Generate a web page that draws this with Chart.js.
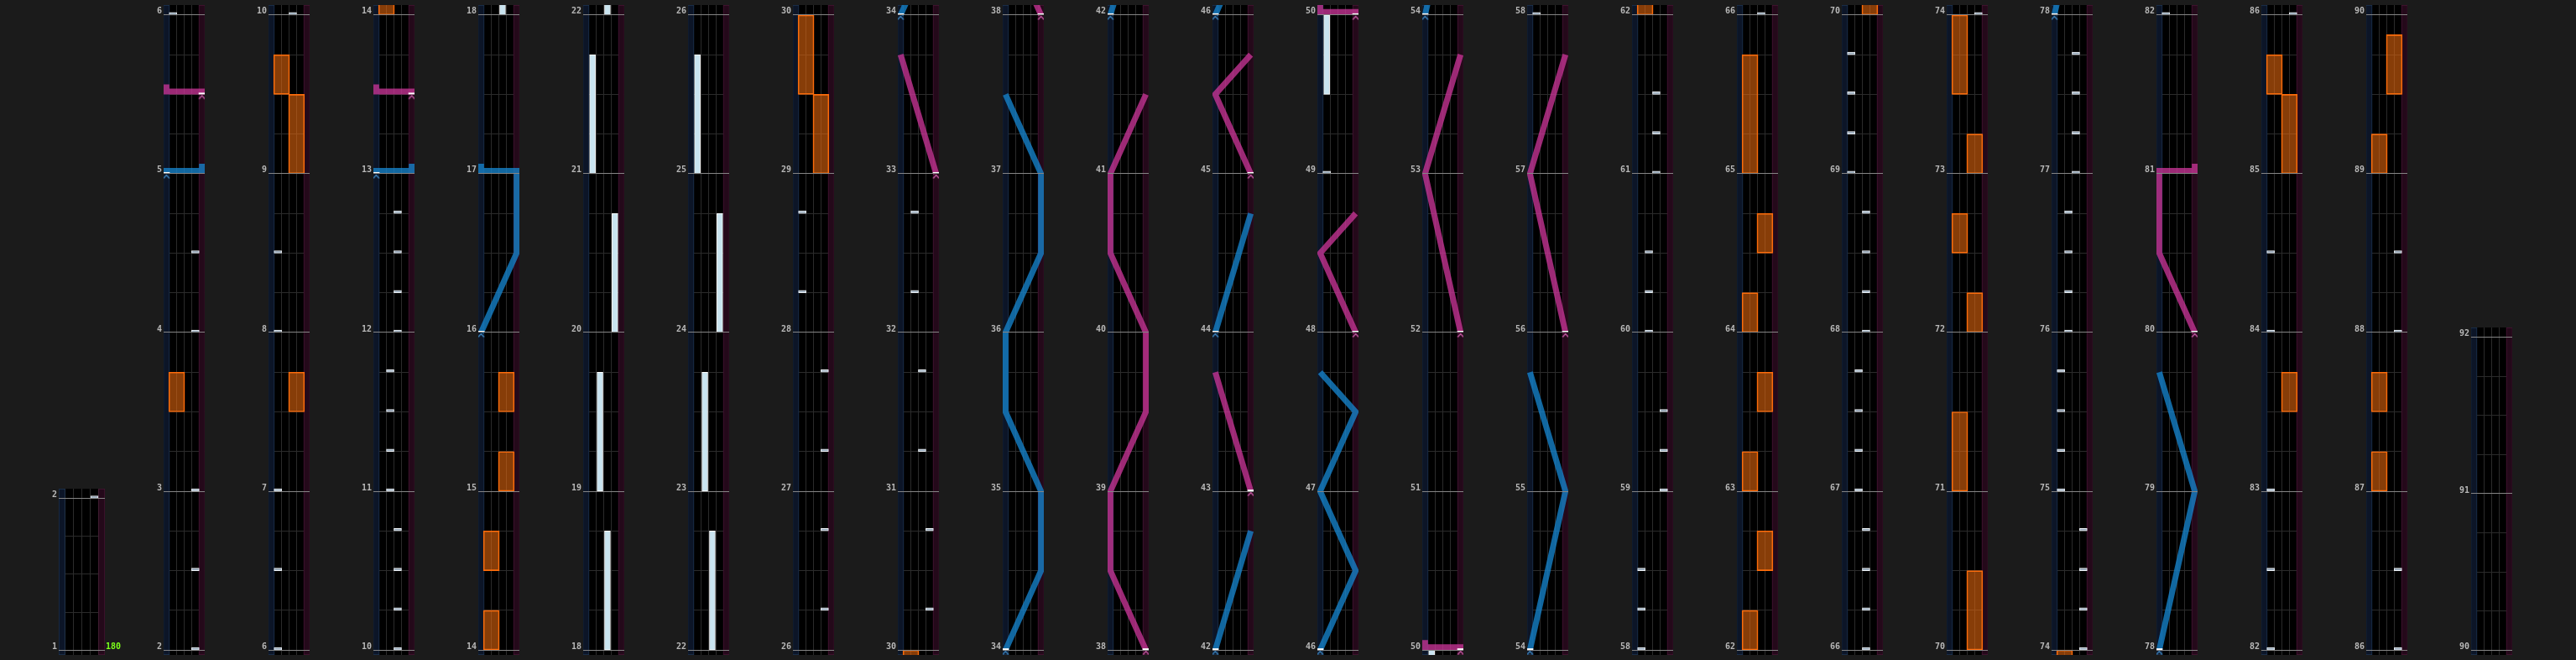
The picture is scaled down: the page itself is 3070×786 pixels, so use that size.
<!DOCTYPE html>
<html><head><meta charset="utf-8">
<script src="https://cdn.jsdelivr.net/npm/chart.js@4.4.0/dist/chart.umd.min.js"></script>
<style>
html,body{margin:0;padding:0;background:#1b1b1b;width:3070px;height:786px;overflow:hidden}
canvas{position:absolute}
</style></head><body>
<script>
// ================= DATA (times in measures) =================
const lastMeasure = 92;
const bpmLabels = [[1, 180]];               // [measure, bpm]
// BT chips: [time, lane 0..3]
const btChips = [
 [2,3],[2.5,3],[3,3],[4,3],[4.5,3],
 [6,0],[6.5,0],[7,0],[8,0],[8.5,0],
 [10,2],[10.25,2],[10.5,2],[10.75,2],[11,1],[11.25,1],[11.5,1],[11.75,1],[12,2],[12.25,2],[12.5,2],[12.75,2],
 [26.25,3],[26.75,3],[27.25,3],[27.75,3],[28.25,0],[28.75,0],
 [30.25,3],[30.75,3],[31.25,2],[31.75,2],[32.25,1],[32.75,1],
 [49,0],
 [58,0],[58.25,0],[58.5,0],[59,3],[59.25,3],[59.5,3],[60,1],[60.25,1],[60.5,1],[61,2],[61.25,2],[61.5,2],
 [66,2],[66.25,2],[66.5,2],[66.75,2],[67,1],[67.25,1],[67.5,1],[67.75,1],[68,2],[68.25,2],[68.5,2],[68.75,2],[69,0],[69.25,0],[69.5,0],[69.75,0],
 [74,3],[74.25,3],[74.5,3],[74.75,3],[75,0],[75.25,0],[75.5,0],[75.75,0],[76,1],[76.25,1],[76.5,1],[76.75,1],[77,2],[77.25,2],[77.5,2],[77.75,2],
 [82,0],[82.5,0],[83,0],[84,0],[84.5,0],[86,3],[86.5,3],[88,3],[88.5,3]
];
// BT holds: [start, end, lane]
const btHolds = [
 [18,18.75,2],[19,19.75,1],[20,20.75,3],[21,21.75,0],
 [22,22.75,2],[23,23.75,1],[24,24.75,3],[25,25.75,0],[49.5,50,0]
];
// FX holds: [start, end, side 0=left 1=right]
const fxHolds = [
 [3.5,3.75,0],[7.5,7.75,1],[9,9.5,1],[9.5,9.75,0],[14,14.25,0],[14.5,14.75,0],[15,15.25,1],[15.5,15.75,1],
 [29,29.5,1],[29.5,30,0],[62,62.25,0],[62.5,62.75,1],[63,63.25,0],[63.5,63.75,1],[64,64.25,0],[64.5,64.75,1],
 [65,65.75,0],[70,70.5,1],[71,71.5,0],[72,72.25,1],[72.5,72.75,0],[73,73.25,1],[73.5,74,0],
 [83.5,83.75,1],[85,85.5,1],[85.5,85.75,0],[87,87.25,0],[87.5,87.75,0],[89,89.25,0],[89.5,89.875,1]
];
// Lasers: list of [time, position 0..1]; two points with equal time = slam
const leftLasers = [
 [[5,0],[5,1],[5.0625,1]],
 [[13,0],[13,1],[13.0625,1]],
 [[16,0],[16.5,1],[17,1],[17,0],[17.0625,0]],
 [[34,0],[34.5,1],[35,1],[35.5,0],[36,0],[36.5,1],[37,1],[37.5,0]],
 [[42,0],[42.75,1]],
 [[44,0],[44.75,1]],
 [[46,0],[46.5,1],[47,0],[47.5,1],[47.75,0]],
 [[54,0],[55,1],[55.75,0]],
 [[78,0],[79,1],[79.75,0]]
];
const rightLasers = [
 [[5.5,1],[5.5,0],[5.5625,0]],
 [[13.5,1],[13.5,0],[13.5625,0]],
 [[33,1],[33.75,0]],
 [[38,1],[38.5,0],[39,0],[39.5,1],[40,1],[40.5,0],[41,0],[41.5,1]],
 [[43,1],[43.75,0]],
 [[45,1],[45.5,0],[45.75,1]],
 [[48,1],[48.5,0],[48.75,1]],
 [[50,1],[50,0],[50.0625,0]],
 [[52,1],[53,0],[53.75,1]],
 [[56,1],[57,0],[57.75,1]],
 [[80,1],[80.5,0],[81,0],[81,1],[81.0625,1]]
];

// ================= LAYOUT / STYLE =================
const PXM = 192, COL0 = 70, STEP = 125, LANE_AREA = 55, BOTTOM = 780, LABEL_W = 30, BPM_W = 25;
const PAD_TOP = 12, PAD_BOT = 6;
const LX_MIN = -0.75, LX_MAX = 4.75;              // lane units (4 lanes + laser strips)
const LASER_EXT = 3.75 / 47.5;
const XL_MIN = -LASER_EXT, XL_MAX = 1 + LASER_EXT;
const COLORS = {
  blue: 'rgba(22,132,205,0.78)', pink: 'rgba(200,52,150,0.78)',
  blueChev: '#3d86c0', pinkChev: '#c75aa5'
};
const FONT = {family: '"DejaVu Sans Mono", monospace', size: 10, weight: 'bold'};

const columns = [[1, 2]];
for (let s = 2; s + 4 <= 90; s += 4) columns.push([s, s + 4]);
columns.push([90, lastMeasure]);

function laserPoints(pts) {
  const off = 3.5 / PXM;
  return pts.map(([t, p], i) => {
    const slamNext = i + 1 < pts.length && pts[i + 1][0] === t;
    const slamPrev = i > 0 && pts[i - 1][0] === t;
    let y = t, x = p;
    if (slamNext || slamPrev) y = t + off;
    if (i === 0 && slamNext) x = p + (p < 0.5 ? -LASER_EXT : LASER_EXT);
    return {x, y};
  });
}
function chevronImg(color) {
  const c = document.createElement('canvas'); c.width = 10; c.height = 14;
  const g = c.getContext('2d');
  g.fillStyle = '#ffffff'; g.fillRect(1, 5, 8, 2);
  g.strokeStyle = color; g.lineWidth = 1.4;
  g.beginPath(); g.moveTo(1.5, 12.5); g.lineTo(5, 8.5); g.lineTo(8.5, 12.5); g.stroke();
  return c;
}
const chevL = chevronImg(COLORS.blueChev), chevR = chevronImg(COLORS.pinkChev);

const panelBg = {
  id: 'panelBg',
  beforeDraw(chart) {
    const {ctx, chartArea: a} = chart;
    ctx.save(); ctx.fillStyle = '#000'; ctx.fillRect(a.left, a.top, a.right - a.left, a.bottom - a.top); ctx.restore();
  }
};

function hiddenX(extra) {
  return Object.assign({type: 'linear', display: false, min: LX_MIN, max: LX_MAX, offset: false, grid: {offset: false}}, extra || {});
}
const barBase = {type: 'bar', grouped: false, borderSkipped: false, categoryPercentage: 1, barPercentage: 1};

columns.forEach(([start, end], k) => {
  const x0 = COL0 + STEP * k;
  const bpmHere = bpmLabels.filter(([m]) => m >= start && m <= end);
  const ymin = start - PAD_BOT / PXM, ymax = end + PAD_TOP / PXM;
  const cv = document.createElement('canvas');
  const w = LABEL_W + LANE_AREA + (bpmHere.length ? BPM_W : 0);
  const h = (end - start) * PXM + PAD_TOP + PAD_BOT;
  cv.width = w; cv.height = h;
  cv.style.left = (x0 - LABEL_W) + 'px';
  cv.style.top = (BOTTOM + PAD_BOT - h) + 'px';
  document.body.appendChild(cv);

  const measureTicks = [];
  for (let m = start; m <= end; m++) measureTicks.push({value: m});
  const beatTicks = [];
  for (let b = start; b <= end + 1e-9; b += 0.25) beatTicks.push({value: b});

  const datasets = [
    Object.assign({}, barBase, {xAxisID: 'xs', data: [{x: -0.375, y: [ymin, ymax]}, {x: 4.375, y: [ymin, ymax]}],
      backgroundColor: ['#0c1527', '#24091a'], borderColor: ['#1d3452', '#471634'], borderWidth: 1,
      barThickness: 7.5, order: 10}),
    Object.assign({}, barBase, {xAxisID: 'xf', data: fxHolds.map(([a, b, s]) => ({x: s * 2 + 1, y: [a, b]})),
      backgroundColor: 'rgba(240,108,14,0.56)', borderColor: '#ff6c0a', borderWidth: 1,
      barThickness: 19, order: 8}),
    Object.assign({}, barBase, {xAxisID: 'xh', data: btHolds.map(([a, b, l]) => ({x: l + 0.5, y: [a, b]})),
      backgroundColor: '#c9e4f0', borderColor: '#ffffff', borderWidth: 1,
      barThickness: 7, order: 7}),
    Object.assign({}, barBase, {xAxisID: 'xc', data: btChips.map(([t, l]) => ({x: l + 0.5, y: [t, t + 3 / PXM]})),
      backgroundColor: '#93a6b8', borderColor: '#f2f6fa', borderWidth: 1,
      barThickness: 9, order: 6})
  ];
  leftLasers.forEach(l => datasets.push({type: 'line', xAxisID: 'xl', data: laserPoints(l),
    borderColor: COLORS.blue, borderWidth: 7, pointRadius: 0, tension: 0, fill: false,
    borderJoinStyle: 'miter', borderCapStyle: 'butt', order: 5}));
  rightLasers.forEach(l => datasets.push({type: 'line', xAxisID: 'xl', data: laserPoints(l),
    borderColor: COLORS.pink, borderWidth: 7, pointRadius: 0, tension: 0, fill: false,
    borderJoinStyle: 'miter', borderCapStyle: 'butt', order: 4}));
  datasets.push({type: 'scatter', xAxisID: 'xl', data: leftLasers.map(l => ({x: l[0][1], y: l[0][0]})),
    pointStyle: chevL, pointRadius: 5, order: 1});
  datasets.push({type: 'scatter', xAxisID: 'xl', data: rightLasers.map(l => ({x: l[0][1], y: l[0][0]})),
    pointStyle: chevR, pointRadius: 5, order: 1});

  const scales = {
    x: {type: 'linear', position: 'bottom', min: LX_MIN, max: LX_MAX, offset: false, bounds: 'data',
      afterBuildTicks: ax => { ax.ticks = [0, 1, 2, 3, 4].map(v => ({value: v})); },
      afterFit: ax => { ax.height = 0; ax.paddingLeft = 0; ax.paddingRight = 0; },
      grid: {color: '#2b2b2b', drawTicks: false, offset: false}, border: {display: false},
      ticks: {display: false}},
    xs: hiddenX(), xf: hiddenX(), xh: hiddenX(), xc: hiddenX(),
    xl: hiddenX({min: XL_MIN, max: XL_MAX}),
    yb: {type: 'linear', position: 'right', min: ymin, max: ymax, bounds: 'data',
      afterBuildTicks: ax => { ax.ticks = beatTicks.slice(); },
      afterFit: ax => { ax.width = 0; ax.paddingTop = 0; ax.paddingBottom = 0; },
      grid: {color: '#2b2b2b', drawTicks: false}, border: {display: false}, ticks: {display: false}},
    y: {type: 'linear', position: 'left', min: ymin, max: ymax, bounds: 'data',
      afterBuildTicks: ax => { ax.ticks = measureTicks.slice(); },
      afterFit: ax => { ax.width = LABEL_W; ax.paddingTop = 0; ax.paddingBottom = 0; },
      grid: {color: '#858585', lineWidth: 1, drawTicks: false, z: 1}, border: {display: false},
      ticks: {color: '#b8b8b8', font: FONT, padding: 2, labelOffset: -4, autoSkip: false,
        callback: v => String(v)}}
  };
  if (bpmHere.length) {
    scales.yp = {type: 'linear', position: 'right', min: ymin, max: ymax, bounds: 'data',
      afterBuildTicks: ax => { ax.ticks = bpmHere.map(([m]) => ({value: m})); },
      afterFit: ax => { ax.width = BPM_W; ax.paddingTop = 0; ax.paddingBottom = 0; },
      grid: {display: false, drawTicks: false}, border: {display: false},
      ticks: {color: '#7dff1a', font: FONT, padding: 1, labelOffset: -4, autoSkip: false,
        callback: v => String((bpmHere.find(([m]) => m === v) || [0, ''])[1])}};
  }

  new Chart(cv, {
    type: 'scatter',
    data: {datasets},
    options: {
      responsive: false, animation: false, events: [], devicePixelRatio: 1,
      layout: {padding: 0},
      plugins: {legend: {display: false}, tooltip: {enabled: false}},
      scales
    },
    plugins: [panelBg]
  });
});
</script>
</body></html>
